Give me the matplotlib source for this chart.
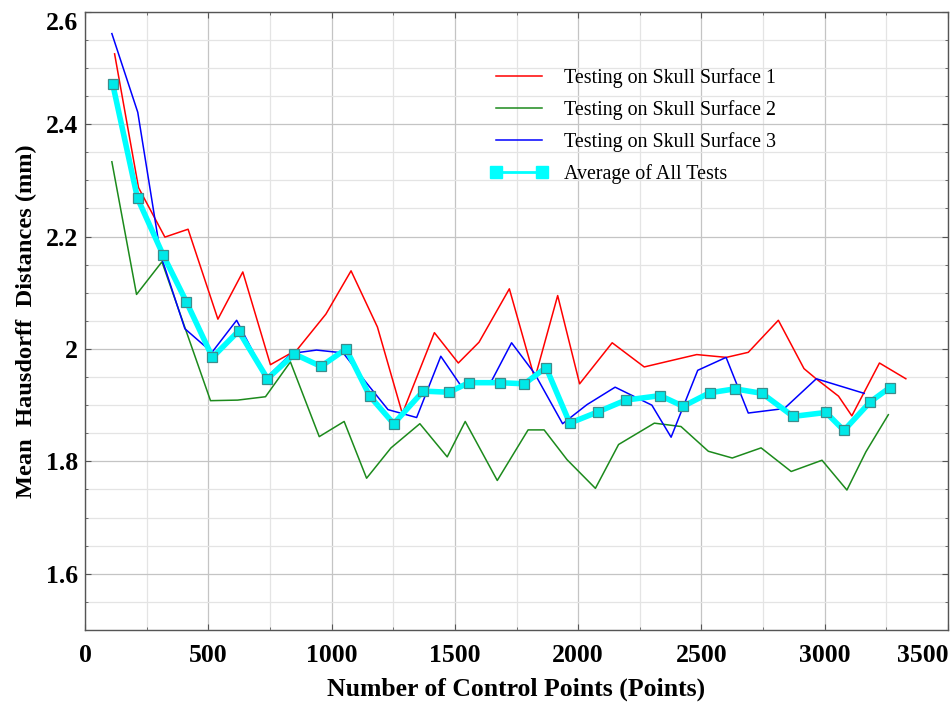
import matplotlib.pyplot as plt
from matplotlib.lines import Line2D
from matplotlib.ticker import MultipleLocator

# data
x_s1 = [120, 217, 324, 418, 539, 640, 752, 861, 977, 1079, 1186, 1287, 1417, 1514,
        1598, 1721, 1824, 1917, 2006, 2138, 2268, 2374, 2481, 2601, 2690, 2812,
        2916, 2965, 3056, 3110, 3222, 3329]
y_s1 = [2.525, 2.287, 2.199, 2.213, 2.053, 2.137, 1.972, 1.999, 2.062, 2.139, 2.039,
        1.885, 2.029, 1.975, 2.012, 2.107, 1.947, 2.095, 1.938, 2.011, 1.968, 1.979,
        1.990, 1.985, 1.994, 2.051, 1.965, 1.947, 1.916, 1.881, 1.975, 1.947]

x_s2 = [109, 209, 312, 509, 619, 732, 833, 950, 1051, 1142, 1241, 1358, 1469, 1542,
        1672, 1797, 1862, 1955, 2070, 2164, 2309, 2417, 2528, 2625, 2742, 2864,
        2989, 3090, 3167, 3258]
y_s2 = [2.333, 2.097, 2.155, 1.908, 1.909, 1.915, 1.977, 1.844, 1.871, 1.770, 1.824,
        1.867, 1.808, 1.871, 1.766, 1.856, 1.856, 1.803, 1.752, 1.830, 1.868, 1.862,
        1.818, 1.806, 1.824, 1.782, 1.802, 1.749, 1.817, 1.883]

x_s3 = [109, 214, 307, 405, 515, 615, 736, 837, 939, 1047, 1139, 1229, 1345, 1443,
        1527, 1650, 1730, 1824, 1937, 2036, 2150, 2299, 2377, 2485, 2600, 2690,
        2836, 2966, 3160]
y_s3 = [2.561, 2.421, 2.167, 2.036, 1.994, 2.051, 1.949, 1.992, 1.998, 1.993, 1.941,
        1.892, 1.878, 1.987, 1.933, 1.944, 2.011, 1.956, 1.867, 1.901, 1.932, 1.900,
        1.843, 1.962, 1.985, 1.886, 1.894, 1.947, 1.921]

x_avg = [112, 213, 316, 411, 517, 623, 740, 849, 957, 1059, 1155, 1252, 1372, 1476,
         1557, 1683, 1782, 1870, 1966, 2080, 2193, 2333, 2426, 2533, 2636, 2746,
         2872, 3005, 3078, 3185, 3263]
y_avg = [2.472, 2.268, 2.168, 2.084, 1.985, 2.032, 1.947, 1.991, 1.969, 2.000, 1.916,
         1.867, 1.925, 1.923, 1.940, 1.940, 1.938, 1.967, 1.868, 1.888, 1.909, 1.917,
         1.898, 1.922, 1.929, 1.921, 1.880, 1.887, 1.855, 1.906, 1.931]

labels = ['Testing on Skull Surface 1', 'Testing on Skull Surface 2',
          'Testing on Skull Surface 3', 'Average of All Tests']
xticks = [0, 500, 1000, 1500, 2000, 2500, 3000, 3500]
yticks = [1.6, 1.8, 2.0, 2.2, 2.4, 2.6]
yticklabels = ['1.6', '1.8', '2', '2.2', '2.4', '2.6']

plt.rcParams['font.family'] = ['Liberation Serif', 'DejaVu Serif']

fig = plt.figure(figsize=(9.52, 7.02), dpi=100)
ax = fig.add_axes([85 / 952, 72 / 702, 863 / 952, 618.3 / 702])

ax.plot(x_s1, y_s1, color='#ff0000', lw=1.1)
ax.plot(x_s2, y_s2, color='#1c8a1c', lw=1.1)
ax.plot(x_s3, y_s3, color='#0000ff', lw=1.1)
ax.plot(x_avg, y_avg, color='#00ffff', lw=4, marker='s', ms=7.5,
        mfc='#00e8e8', mec='#3c8c8c', mew=0.9)

ax.set_xlim(0, 3500)
ax.set_ylim(1.5, 2.6)
ax.set_xticks(xticks, [str(v) for v in xticks])
ax.set_yticks(yticks, yticklabels)
ax.xaxis.set_minor_locator(MultipleLocator(250))
ax.yaxis.set_minor_locator(MultipleLocator(0.05))

ax.grid(which='major', color='#c4c4c4', lw=0.9)
ax.grid(which='minor', color='#e4e4e4', lw=0.9)
ax.set_axisbelow(True)
ax.tick_params(which='both', direction='in', top=True, right=True,
               color='#555555', labelsize=18.5)
ax.tick_params(axis='x', pad=10)
ax.tick_params(axis='y', pad=5)
ax.tick_params(which='major', length=4)
ax.tick_params(which='minor', length=2.5)
for t in ax.get_xticklabels() + ax.get_yticklabels():
    t.set_fontweight('bold')
for sp in ax.spines.values():
    sp.set_color('#555555')
    sp.set_linewidth(1.0)

# edge labels pulled inside like the original
ax.xaxis.get_major_ticks()[-1].label1.set_horizontalalignment('right')
ax.yaxis.get_major_ticks()[-1].label1.set_verticalalignment('top')

ax.set_xlabel('Number of Control Points (Points)', fontsize=18.5,
              fontweight='bold', labelpad=8)
ax.set_ylabel('Mean  Hausdorff  Distances (mm)', fontsize=17.6,
              fontweight='bold', labelpad=6)

handles = [Line2D([], [], color='#ff0000', lw=1.1),
           Line2D([], [], color='#1c8a1c', lw=1.1),
           Line2D([], [], color='#0000ff', lw=1.1),
           Line2D([], [], color='#00ffff', lw=2, marker='s', ms=8,
                  mfc='#00ffff', mec='#00ffff')]
ax.legend(handles, labels, loc='upper left', bbox_to_anchor=(0.449, 0.938),
          frameon=False, fontsize=14.4, handlelength=2.9, handletextpad=0.8,
          labelspacing=0.6, numpoints=2)

fig.savefig('out.png', dpi=100)
